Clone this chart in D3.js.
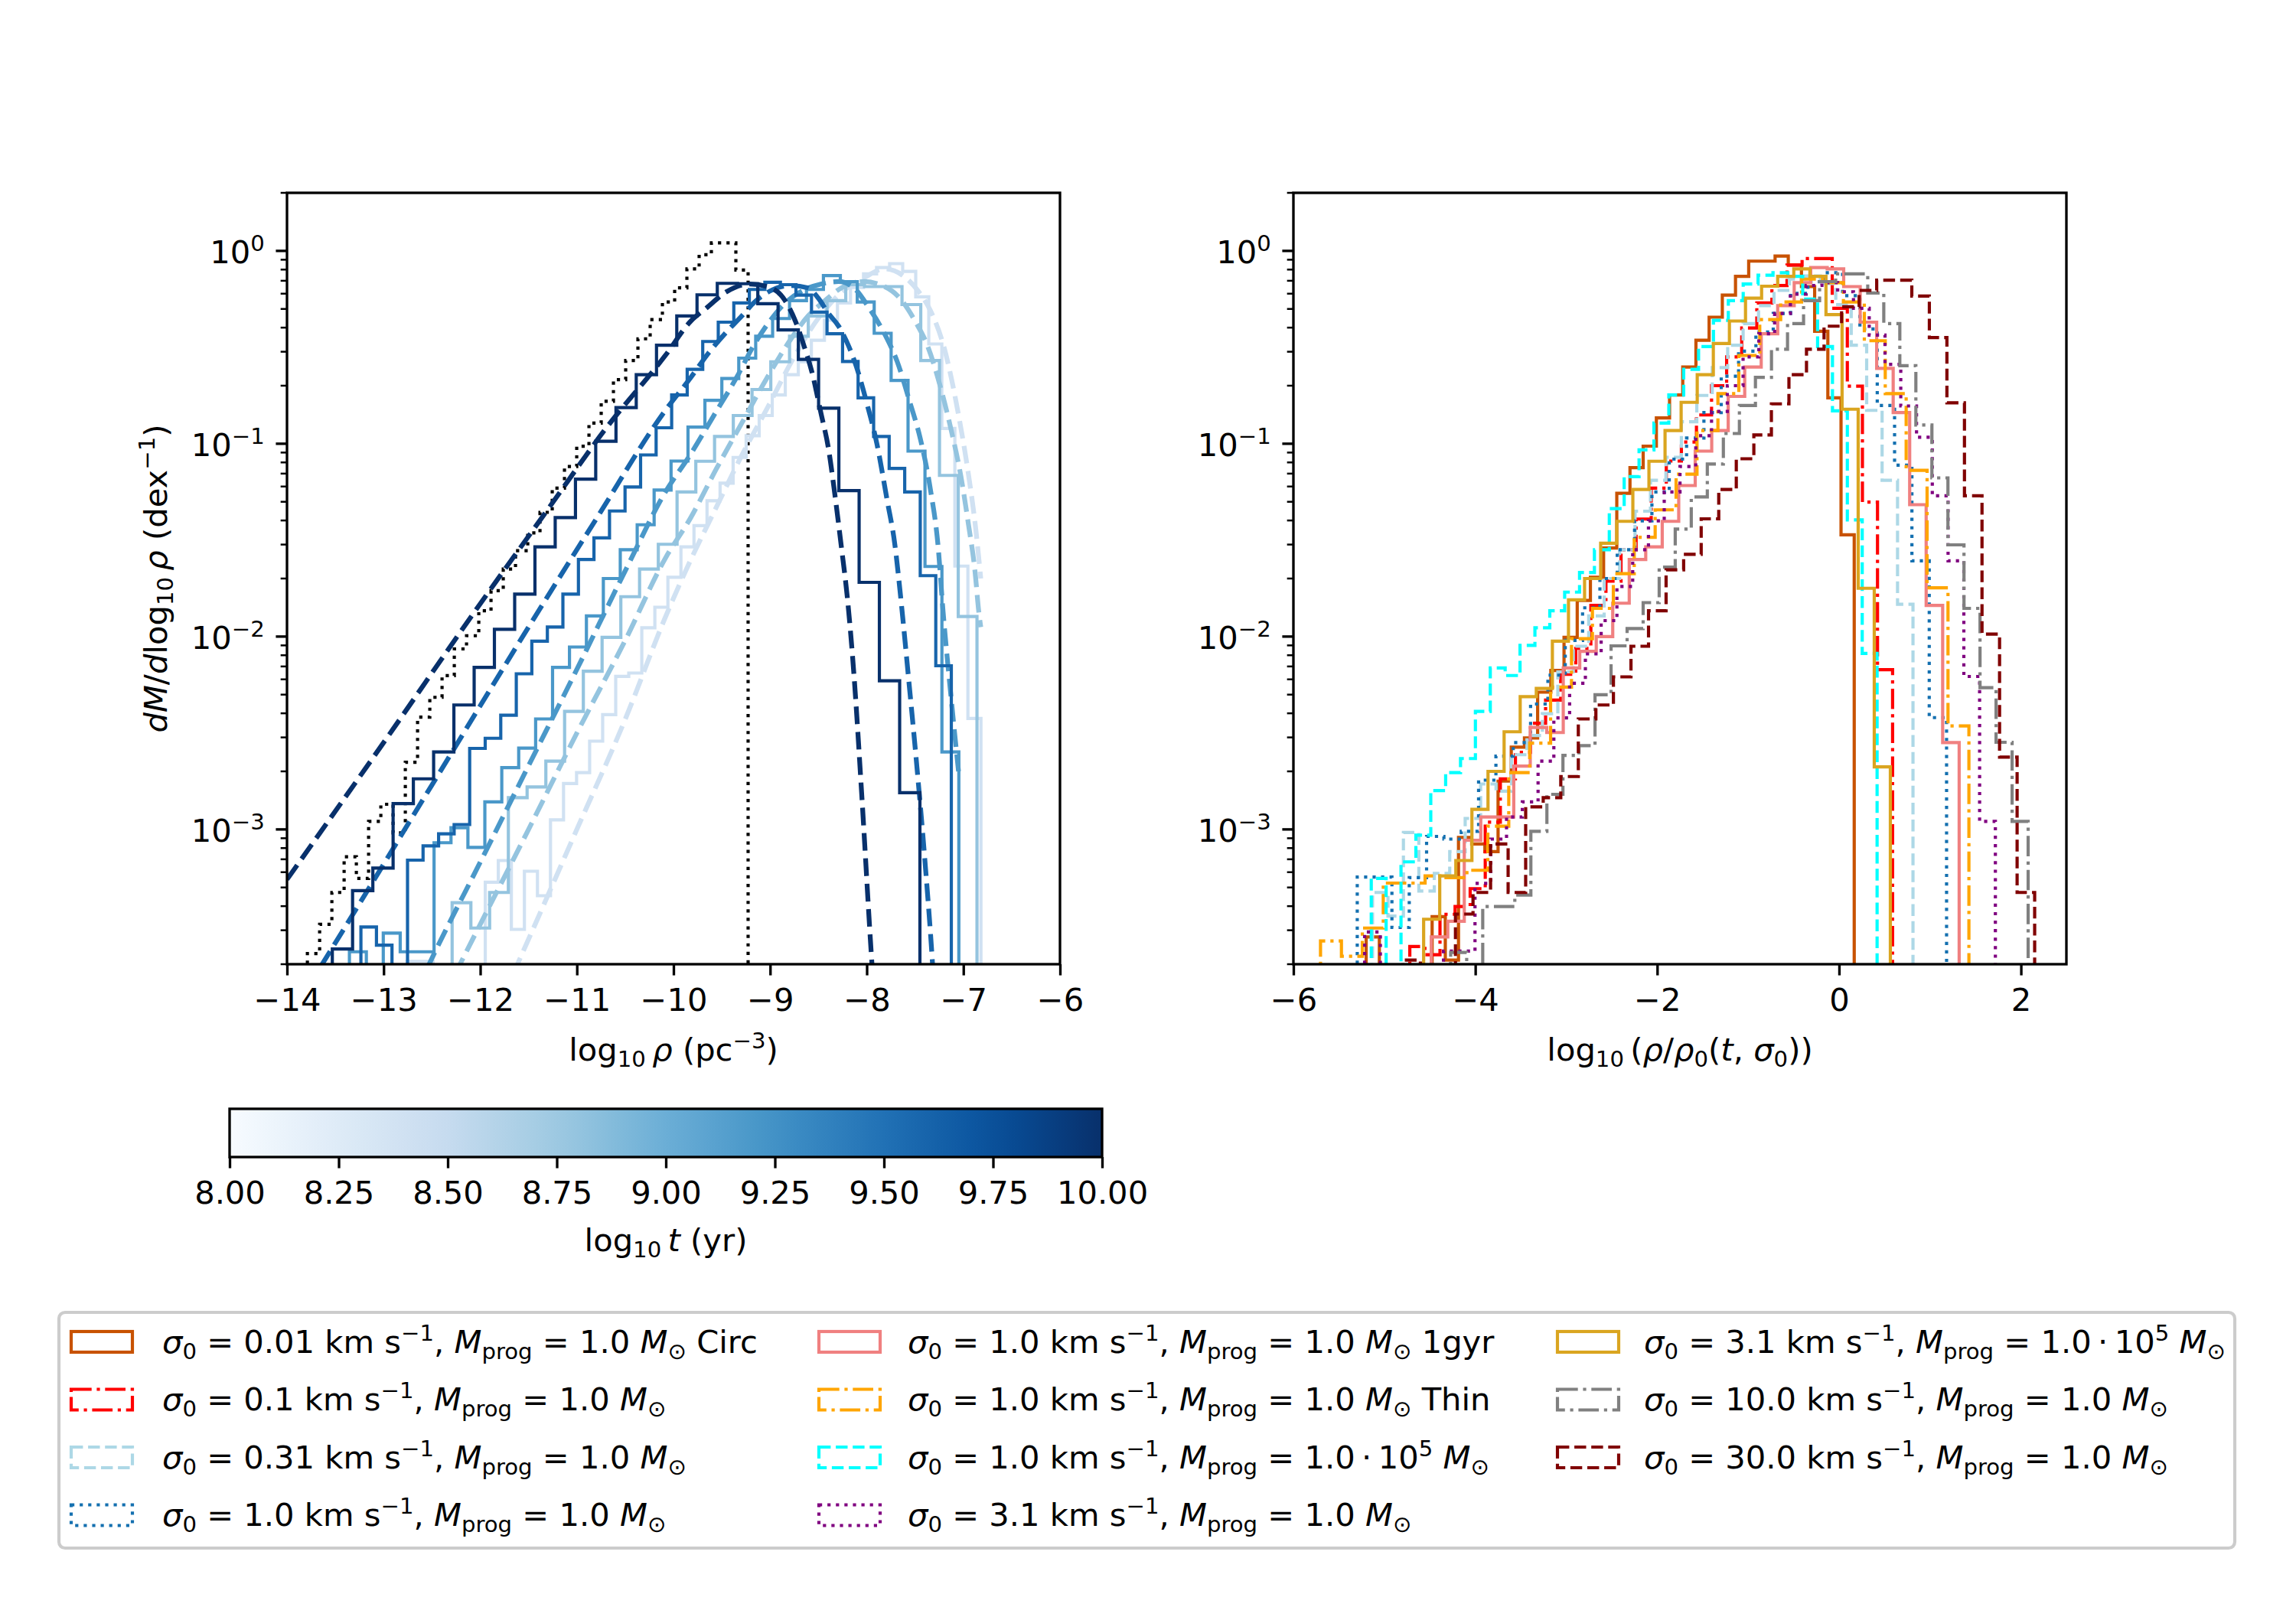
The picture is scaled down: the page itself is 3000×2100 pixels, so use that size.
<!DOCTYPE html>
<html lang="en">
<head>
<meta charset="UTF-8" />
<title>Density distributions</title>
<script src="https://d3js.org/d3.v7.min.js"></script>
<style>
  body { margin: 0; background: #fff; }
  svg text { font-family: "DejaVu Sans", sans-serif; white-space: pre; }
</style>
</head>
<body>
<div id="chart"></div>
<script>
// ------------------------------------------------------------------
// Data (dM/dlog10 rho, per histogram bin)
// ------------------------------------------------------------------

// left panel: reference (black dotted) histogram
const initStart = -13.789, initWidth = 0.1267;
const initHist = [2.27e-4, 3.22e-4, 4.71e-4, 7.21e-4, 5.57e-4, 1.10e-3, 1.35e-3, 9.6e-4, 2.23e-3, 3.82e-3,
  4.84e-3, 6.27e-3, 8.63e-3, 1.01e-2, 1.36e-2, 1.73e-2, 2.24e-2, 2.79e-2, 3.45e-2, 4.41e-2,
  5.89e-2, 7.62e-2, 9.7e-2, 0.128, 0.166, 0.215, 0.27, 0.35, 0.44, 0.543,
  0.643, 0.807, 0.955, 1.10, 1.10, 0.796];

// left panel: one histogram + one model curve per age
const ageLogT = [8.4, 8.8, 9.2, 9.6, 10.0];
const ageBinStart = [-12.758, -12.291, -13.354, -13.235, -13.531];
const ageBinWidth = [0.135, 0.194, 0.1752, 0.1608, 0.2097];

const ageHist84 = [2.07e-4, 2.07e-4, 0, 0, 0, 0, 5.32e-4, 6.9e-4, 3.03e-4, 6.07e-4,
  4.53e-4, 1.12e-3, 1.73e-3, 1.97e-3, 2.87e-3, 3.94e-3, 6.22e-3, 6.47e-3, 1.11e-2, 1.42e-2,
  2.03e-2, 2.92e-2, 3.76e-2, 5.06e-2, 6.25e-2, 8.49e-2, 0.11, 0.14, 0.179, 0.228,
  0.266, 0.344, 0.437, 0.537, 0.646, 0.76, 0.82, 0.859, 0.783, 0.578,
  0.329, 0.12, 2.32e-2, 3.76e-3];
const ageHist88 = [4.17e-4, 3.08e-4, 4.71e-4, 1.46e-3, 1.66e-3, 2.26e-3, 4.09e-3, 6.61e-3, 9.91e-3, 1.61e-2,
  2.24e-2, 3.01e-2, 5.62e-2, 8.11e-2, 0.109, 0.14, 0.191, 0.266, 0.361, 0.46,
  0.552, 0.668, 0.653, 0.653, 0.527, 0.27, 6.85e-2, 1.27e-2];
const ageHist92 = [2.32e-4, 0, 2.9e-4, 2.32e-4, 2.32e-4, 8.53e-4, 1.02e-3, 8.07e-4, 1.39e-3, 2.09e-3,
  2.64e-3, 3.74e-3, 6.92e-3, 8.83e-3, 1.28e-2, 2.0e-2, 2.82e-2, 3.8e-2, 5.75e-2, 8.13e-2,
  0.122, 0.168, 0.218, 0.278, 0.361, 0.446, 0.552, 0.631, 0.745, 0.693,
  0.543, 0.374, 0.213, 9.16e-2, 2.31e-2, 2.52e-3];
const ageHist96 = [3.12e-4, 2.51e-4, 0, 6.93e-4, 8.22e-4, 9.48e-4, 1.06e-3, 2.63e-3, 2.97e-3, 3.91e-3,
  6.41e-3, 9.46e-3, 1.12e-2, 1.66e-2, 2.51e-2, 3.25e-2, 4.48e-2, 5.97e-2, 8.75e-2, 0.121,
  0.179, 0.243, 0.339, 0.427, 0.537, 0.631, 0.687, 0.668, 0.59, 0.481,
  0.372, 0.267, 0.173, 0.109, 7.45e-2, 5.62e-2, 2.07e-2, 7.06e-3];
const ageHist100 = [2.4e-4, 4.81e-4, 6.3e-4, 1.36e-3, 1.83e-3, 2.52e-3, 4.42e-3, 6.92e-3, 1.09e-2, 1.66e-2,
  2.92e-2, 4.14e-2, 6.55e-2, 0.103, 0.154, 0.228, 0.324, 0.46, 0.592, 0.679,
  0.676, 0.532, 0.389, 0.274, 0.153, 5.71e-2, 1.91e-2, 5.9e-3, 1.55e-3];

// model curves [log10 rho, dM/dlog10 rho]
const ageCurve84 = [[-11.66, 1.78e-4], [-11.613, 2.01e-4], [-11.0, 1e-3], [-10.5, 3.72e-3], [-10.084, 1.26e-2],
  [-9.82, 2.51e-2], [-9.557, 4.68e-2], [-9.293, 8.71e-2], [-9.029, 0.153], [-8.765, 0.274], [-8.502, 0.447],
  [-8.238, 0.624], [-8.027, 0.726], [-7.816, 0.807], [-7.631, 0.748], [-7.473, 0.624], [-7.341, 0.49],
  [-7.2, 0.316], [-7.05, 0.141], [-6.95, 7.08e-2], [-6.87, 3.55e-2], [-6.82, 2.0e-2]];
const ageCurve88 = [[-12.26, 1.78e-4], [-12.207, 2.01e-4], [-11.5, 1e-3], [-11.0, 3.16e-3], [-10.5, 9.55e-3],
  [-10.084, 2.55e-2], [-9.82, 4.15e-2], [-9.557, 7.4e-2], [-9.293, 0.128], [-9.029, 0.221], [-8.765, 0.361],
  [-8.607, 0.46], [-8.449, 0.543], [-8.238, 0.653], [-8.027, 0.693], [-7.842, 0.662], [-7.658, 0.569],
  [-7.5, 0.433], [-7.368, 0.319], [-7.236, 0.196], [-7.13, 0.12], [-7.025, 6.75e-2], [-6.946, 3.78e-2],
  [-6.88, 2.19e-2], [-6.84, 1.34e-2], [-6.82, 1.12e-2]];
const ageCurve92 = [[-12.55, 1.9e-4], [-12.484, 2.23e-4], [-12.0, 6.76e-4], [-11.5, 2.14e-3], [-11.0, 6.76e-3],
  [-10.5, 2.19e-2], [-10.084, 5.62e-2], [-9.82, 8.87e-2], [-9.583, 0.14], [-9.346, 0.221], [-9.161, 0.329],
  [-9.003, 0.433], [-8.845, 0.536], [-8.66, 0.624], [-8.475, 0.673], [-8.291, 0.693], [-8.133, 0.643],
  [-7.974, 0.504], [-7.816, 0.372], [-7.684, 0.266], [-7.552, 0.163], [-7.447, 0.107], [-7.341, 5.79e-2],
  [-7.262, 2.96e-2], [-7.21, 1.35e-2], [-7.13, 5.0e-3], [-7.05, 2.0e-3]];
const ageCurve96 = [[-13.65, 1.95e-4], [-13.552, 2.34e-4], [-12.5, 1.7e-3], [-11.5, 1.12e-2], [-10.8, 4.07e-2],
  [-10.084, 0.149], [-9.82, 0.221], [-9.636, 0.296], [-9.451, 0.38], [-9.293, 0.46], [-9.161, 0.543],
  [-8.976, 0.628], [-8.792, 0.662], [-8.607, 0.643], [-8.502, 0.569], [-8.396, 0.474], [-8.291, 0.407],
  [-8.185, 0.319], [-8.106, 0.25], [-8.0, 0.163], [-7.895, 0.1], [-7.79, 5.13e-2], [-7.711, 3.05e-2],
  [-7.64, 1.45e-2], [-7.57, 6.3e-3], [-7.48, 2.09e-3], [-7.40, 7.1e-4], [-7.32, 2.04e-4], [-7.30, 1.4e-4]];
const ageCurve100 = [[-14, 5.5e-4], [-13, 2.82e-3], [-12, 1.48e-2], [-11.3, 4.57e-2], [-10.7, 0.12],
  [-10.084, 0.287], [-9.82, 0.433], [-9.662, 0.504], [-9.451, 0.614], [-9.214, 0.673], [-9.0, 0.646],
  [-8.845, 0.552], [-8.739, 0.433], [-8.647, 0.319], [-8.568, 0.236], [-8.475, 0.145], [-8.396, 9.44e-2],
  [-8.33, 5.46e-2], [-8.264, 2.96e-2], [-8.2, 1.58e-2], [-8.132, 6.31e-3], [-8.053, 1.55e-3],
  [-7.947, 2.04e-4], [-7.92, 1.3e-4]];

// right panel: normalised density histograms, one per run
const runSigma = ["0.01", "0.1", "0.31", "1.0", "1.0", "1.0", "1.0", "3.1", "3.1", "10.0", "30.0"];
const runMassExp = [0, 0, 0, 0, 0, 0, 5, 0, 5, 0, 0];
const runNote = ["Circ", "", "", "", "1gyr", "Thin", "", "", "", "", ""];
const runBinStart = [-5.2, -4.72, -5.13, -5.298, -4.484, -5.702, -5.144, -5.217, -4.568, -4.271, -4.797];
const runBinWidth = [0.14505, 0.1659, 0.1698, 0.1906, 0.1814, 0.23, 0.1636, 0.1734, 0.17697, 0.1764, 0.193];

const runCirc = [2.77e-4, 0, 0, 0, 0, 3.53e-4, 2.1e-4, 9.08e-4, 8.41e-4, 7.67e-4,
  1.78e-3, 2.67e-3, 2.98e-3, 5.15e-3, 6.67e-3, 9.91e-3, 1.54e-2, 2.03e-2, 2.88e-2, 5.53e-2,
  7.52e-2, 9.72e-2, 0.136, 0.179, 0.25, 0.344, 0.453, 0.59, 0.738, 0.885,
  0.885, 0.94, 0.845, 0.653, 0.383, 0.173, 3.37e-2];
const runS01 = [2.47e-4, 2.24e-4, 3.63e-4, 3.98e-4, 4.93e-4, 1.09e-3, 1.83e-3, 2.51e-3, 3.55e-3, 4.68e-3,
  6.37e-3, 8.69e-3, 1.45e-2, 1.94e-2, 2.82e-2, 4.07e-2, 5.89e-2, 8.13e-2, 0.102, 0.141,
  0.2, 0.282, 0.398, 0.537, 0.661, 0.845, 0.912, 0.912, 0.504, 0.199,
  4.98e-2, 6.73e-3];
const runS031 = [4.71e-4, 3.55e-4, 9.64e-4, 4.79e-4, 5.92e-4, 7.67e-4, 1.14e-3, 1.72e-3, 1.58e-3, 2.44e-3,
  3.07e-3, 3.98e-3, 6.56e-3, 8.91e-3, 1.28e-2, 2.0e-2, 2.82e-2, 4.47e-2, 6.46e-2, 8.51e-2,
  0.13, 0.178, 0.248, 0.324, 0.42, 0.52, 0.624, 0.714, 0.741, 0.676,
  0.527, 0.324, 0.149, 6.46e-2, 1.47e-2];
const runS1 = [5.66e-4, 5.66e-4, 3.1e-4, 5.62e-4, 9.2e-4, 8.91e-4, 9.77e-4, 1.8e-3, 2.4e-3, 2.82e-3,
  4.47e-3, 6.31e-3, 9.55e-3, 1.41e-2, 2.0e-2, 2.82e-2, 3.98e-2, 5.62e-2, 8.32e-2, 0.107,
  0.145, 0.224, 0.302, 0.38, 0.474, 0.603, 0.692, 0.771, 0.586, 0.394,
  0.158, 7.74e-2, 2.47e-2, 3.8e-3];
const runS1gyr = [2.77e-4, 3.34e-4, 8.79e-4, 1.16e-3, 1.16e-3, 2.13e-3, 3.38e-3, 3.18e-3, 6.87e-3, 8.38e-3,
  1.0e-2, 1.49e-2, 2.51e-2, 2.92e-2, 3.96e-2, 6.07e-2, 9.16e-2, 0.117, 0.176, 0.25,
  0.372, 0.52, 0.684, 0.82, 0.807, 0.653, 0.427, 0.246, 0.145, 4.83e-2,
  1.45e-2, 2.82e-3];
const runS1thin = [2.64e-4, 2.2e-4, 3.08e-4, 5.27e-4, 5.27e-4, 5.74e-4, 5.62e-4, 6.14e-4, 1.04e-3, 1.97e-3,
  2.8e-3, 5.47e-3, 9.75e-3, 1.4e-2, 2.12e-2, 3.27e-2, 4.54e-2, 6.95e-2, 0.117, 0.182,
  0.287, 0.44, 0.543, 0.714, 0.684, 0.543, 0.342, 0.182, 7.28e-2, 1.79e-2,
  3.44e-3];
const runS1big = [5.57e-4, 0, 6.79e-4, 9.33e-4, 1.59e-3, 1.97e-3, 2.33e-3, 4.09e-3, 6.87e-3, 6.28e-3,
  9.0e-3, 1.11e-2, 1.36e-2, 1.7e-2, 2.15e-2, 2.82e-2, 4.61e-2, 6.75e-2, 9.29e-2, 0.128,
  0.179, 0.243, 0.319, 0.436, 0.552, 0.673, 0.748, 0.771, 0.738, 0.562,
  0.319, 0.148, 4.03e-2, 8.18e-3];
const runS31 = [2.94e-4, 0, 0, 0, 0, 2.34e-4, 2.34e-4, 5.25e-4, 8.91e-4, 1.16e-3,
  1.39e-3, 2.26e-3, 3.79e-3, 5.73e-3, 8.13e-3, 1.21e-2, 1.82e-2, 2.82e-2, 3.98e-2, 5.62e-2,
  7.62e-2, 0.11, 0.147, 0.2, 0.282, 0.372, 0.474, 0.596, 0.662, 0.684,
  0.614, 0.504, 0.366, 0.258, 0.157, 0.108, 5.37e-2, 2.47e-2, 6.21e-3, 1.1e-3];
const runS31big = [3.42e-4, 5.74e-4, 6.9e-4, 1.27e-3, 2.0e-3, 3.21e-3, 4.88e-3, 5.38e-3, 9.46e-3, 1.55e-2,
  2.0e-2, 3.05e-2, 3.96e-2, 5.79e-2, 8.11e-2, 0.117, 0.164, 0.228, 0.331, 0.433,
  0.569, 0.656, 0.738, 0.807, 0.738, 0.467, 0.151, 1.78e-2, 2.11e-3];
const runS10 = [2.3e-4, 0, 3.98e-4, 3.98e-4, 4.57e-4, 9.77e-4, 1.52e-3, 2.42e-3, 2.72e-3, 4.99e-3,
  8.95e-3, 1.1e-2, 1.5e-2, 2.29e-2, 3.61e-2, 5.3e-2, 7.85e-2, 0.113, 0.158, 0.221,
  0.309, 0.42, 0.552, 0.693, 0.76, 0.76, 0.605, 0.42, 0.254, 0.125,
  6.65e-2, 2.99e-2, 1.4e-2, 5.43e-3, 2.83e-3, 1.1e-3];
const runS30 = [2.1e-4, 0, 0, 3.64e-4, 4.71e-4, 8.41e-4, 4.71e-4, 1.31e-3, 1.46e-3, 1.88e-3,
  3.74e-3, 4.42e-3, 6.18e-3, 8.91e-3, 1.36e-2, 2.22e-2, 2.67e-2, 4.08e-2, 5.79e-2, 8.36e-2,
  0.111, 0.161, 0.228, 0.309, 0.407, 0.513, 0.624, 0.705, 0.705, 0.583,
  0.355, 0.163, 5.37e-2, 1.03e-2, 2.37e-3, 4.71e-4];

// tick values
const leftXTicks = [-14, -13, -12, -11, -10, -9, -8, -7, -6];
const rightXTicks = [-6, -4, -2, 0, 2];
const yMajorTicks = [1e-3, 1e-2, 1e-1, 1];
const cbarTicks = [8.0, 8.25, 8.5, 8.75, 9.0, 9.25, 9.5, 9.75, 10.0];

// ------------------------------------------------------------------
// styles
// ------------------------------------------------------------------
const bluesStops = ["#f7fbff", "#deebf7", "#c6dbef", "#9ecae1", "#6baed6", "#4292c6", "#2171b5", "#08519c", "#08306b"];
const runColors = ["#c85200", "red", "lightblue", "#1470b0", "lightcoral", "orange", "cyan", "purple", "goldenrod", "gray", "maroon"];
const DASHED = "15.4,6.7", DASHDOT = "26.7,6.7,4.2,6.7", DOTTED = "4.2,6.9";
const runDash = [null, DASHDOT, DASHED, DOTTED, null, DASHDOT, DASHED, DOTTED, null, DASHDOT, DASHED];

const fs = 41.67;            // 10 pt at 300 dpi
const W = 3000, H = 2100;
const axTop = 252, axBottom = 1260;
const FLOOR = 1e-7;

const svg = d3.select("#chart").append("svg")
  .attr("width", W).attr("height", H)
  .attr("viewBox", `0 0 ${W} ${H}`);
svg.append("rect").attr("width", W).attr("height", H).attr("fill", "white");
const defs = svg.append("defs");

// matplotlib-like Blues colormap
const cmap = d3.scaleLinear()
  .domain(d3.range(9).map(i => 8 + i * 0.25))
  .range(bluesStops)
  .interpolate(d3.interpolateRgb)
  .clamp(true);

// scales
const yScale = d3.scaleLog().domain([2e-4, 2]).range([axBottom, axTop]);
const xLeft = d3.scaleLinear().domain([-14, -6]).range([375, 1385]);
const xRight = d3.scaleLinear().domain([-6, 2.5]).range([1690, 2700]);

// text with sub/superscripts (mathtext look-alike)
function richText(parent, segs, attrs) {
  const t = parent.append("text").attr("font-size", fs).attr("fill", "black");
  Object.entries(attrs).forEach(([k, v]) => t.attr(k, v));
  let cur = 0;
  segs.forEach(s => {
    const target = s.sub ? 8 : s.sup ? -16 : 0;
    const ts = t.append("tspan").text(s.t).attr("dy", target - cur);
    cur = target;
    if (s.sub || s.sup) ts.attr("font-size", fs * 0.7);
    if (s.it) ts.attr("font-style", "italic");
  });
  return t;
}

// step-histogram outline (matplotlib histtype="step")
function stepPoints(x0, w, vals) {
  const pts = [[x0, FLOOR]];
  vals.forEach((v, i) => {
    const y = v > 0 ? v : FLOOR;
    pts.push([x0 + i * w, y], [x0 + (i + 1) * w, y]);
  });
  pts.push([x0 + vals.length * w, FLOOR]);
  return pts;
}

function addClip(id, x) {
  defs.append("clipPath").attr("id", id).append("rect")
    .attr("x", x.range()[0]).attr("y", axTop)
    .attr("width", x.range()[1] - x.range()[0]).attr("height", axBottom - axTop);
}
addClip("clipL", xLeft);
addClip("clipR", xRight);

// ------------------------------------------------------------------
// left panel
// ------------------------------------------------------------------
const gL = svg.append("g").attr("clip-path", "url(#clipL)");
const stepL = d3.line().x(d => xLeft(d[0])).y(d => yScale(Math.max(d[1], FLOOR)));
const curveL = d3.line().curve(d3.curveMonotoneX).x(d => xLeft(d[0])).y(d => yScale(d[1]));

gL.append("path")
  .attr("d", stepL(stepPoints(initStart, initWidth, initHist)))
  .attr("fill", "none").attr("stroke", "black")
  .attr("stroke-width", 4.17).attr("stroke-dasharray", DOTTED)
  .attr("stroke-linejoin", "miter");

const ageHists = [ageHist84, ageHist88, ageHist92, ageHist96, ageHist100];
const ageCurves = [ageCurve84, ageCurve88, ageCurve92, ageCurve96, ageCurve100];
ageLogT.forEach((t, i) => {
  const col = cmap(t);
  gL.append("path")
    .attr("d", stepL(stepPoints(ageBinStart[i], ageBinWidth[i], ageHists[i])))
    .attr("fill", "none").attr("stroke", col).attr("stroke-width", 4.17)
    .attr("stroke-linejoin", "miter");
  gL.append("path")
    .attr("d", curveL(ageCurves[i]))
    .attr("fill", "none").attr("stroke", col).attr("stroke-width", 6.25)
    .attr("stroke-dasharray", "23.1,10");
});

// ------------------------------------------------------------------
// right panel
// ------------------------------------------------------------------
const gR = svg.append("g").attr("clip-path", "url(#clipR)");
const stepR = d3.line().x(d => xRight(d[0])).y(d => yScale(Math.max(d[1], FLOOR)));
const runHists = [runCirc, runS01, runS031, runS1, runS1gyr, runS1thin, runS1big, runS31, runS31big, runS10, runS30];
runHists.forEach((vals, i) => {
  gR.append("path")
    .attr("d", stepR(stepPoints(runBinStart[i], runBinWidth[i], vals)))
    .attr("fill", "none").attr("stroke", runColors[i]).attr("stroke-width", 4.17)
    .attr("stroke-dasharray", runDash[i])
    .attr("stroke-linejoin", "miter");
});

// ------------------------------------------------------------------
// axes
// ------------------------------------------------------------------
function styleAxis(g) {
  g.attr("font-size", fs).attr("font-family", '"DejaVu Sans", sans-serif');
  g.select(".domain").remove();
  g.selectAll(".tick line").attr("stroke", "black").attr("stroke-width", 3.33);
  g.selectAll(".tick text").attr("fill", "black");
}

const minorVals = [];
for (let e = -4; e <= 0; e++) {
  for (let m = 2; m <= 9; m++) {
    const v = m * Math.pow(10, e);
    if (v >= 2e-4 * 0.999 && v <= 2 * 1.001) minorVals.push(v);
  }
}

function drawAxes(x, ticks) {
  const [x0, x1] = x.range();
  const gx = svg.append("g").attr("transform", `translate(0,${axBottom})`)
    .call(d3.axisBottom(x).tickValues(ticks).tickFormat(d3.format("d"))
      .tickSize(14.58).tickPadding(16.8));
  styleAxis(gx);

  const gy = svg.append("g");
  gy.selectAll("line.minor").data(minorVals).join("line")
    .attr("x1", x0).attr("x2", x0 - 8.33)
    .attr("y1", d => yScale(d)).attr("y2", d => yScale(d))
    .attr("stroke", "black").attr("stroke-width", 2.5);
  gy.selectAll("line.major").data(yMajorTicks).join("line")
    .attr("x1", x0).attr("x2", x0 - 14.58)
    .attr("y1", d => yScale(d)).attr("y2", d => yScale(d))
    .attr("stroke", "black").attr("stroke-width", 3.33);
  yMajorTicks.forEach(v => {
    const e = Math.round(Math.log10(v));
    richText(gy, [{ t: "10" }, { t: e === 0 ? "0" : "\u2212" + Math.abs(e), sup: true }],
      { x: x0 - 29.2, y: yScale(v) + 16, "text-anchor": "end" });
  });

  svg.append("rect")
    .attr("x", x0).attr("y", axTop)
    .attr("width", x1 - x0).attr("height", axBottom - axTop)
    .attr("fill", "none").attr("stroke", "black").attr("stroke-width", 3.33);
}
drawAxes(xLeft, leftXTicks);
drawAxes(xRight, rightXTicks);

// axis labels
richText(svg, [{ t: "dM", it: true }, { t: "/" }, { t: "d", it: true }, { t: "log" }, { t: "10", sub: true },
  { t: "\u2009" }, { t: "ρ", it: true }, { t: " (dex" }, { t: "\u22121", sup: true }, { t: ")" }],
  { transform: "translate(218,756) rotate(-90)", "text-anchor": "middle" });

richText(svg, [{ t: "log" }, { t: "10", sub: true }, { t: "\u2009" }, { t: "ρ", it: true },
  { t: " (pc" }, { t: "\u22123", sup: true }, { t: ")" }],
  { x: (375 + 1385) / 2, y: 1386, "text-anchor": "middle" });

richText(svg, [{ t: "log" }, { t: "10", sub: true }, { t: "\u2009(" }, { t: "ρ", it: true }, { t: "/" },
  { t: "ρ", it: true }, { t: "0", sub: true }, { t: "(" }, { t: "t", it: true }, { t: ", " },
  { t: "σ", it: true }, { t: "0", sub: true }, { t: "))" }],
  { x: (1690 + 2700) / 2, y: 1386, "text-anchor": "middle" });

// ------------------------------------------------------------------
// colorbar
// ------------------------------------------------------------------
const cbX = d3.scaleLinear().domain([8, 10]).range([300, 1440]);
const grad = defs.append("linearGradient").attr("id", "bluesGrad")
  .attr("x1", "0%").attr("x2", "100%").attr("y1", "0%").attr("y2", "0%");
d3.range(0, 1.0001, 0.05).forEach(o => {
  grad.append("stop").attr("offset", `${o * 100}%`).attr("stop-color", cmap(8 + 2 * o));
});
svg.append("rect")
  .attr("x", 300).attr("y", 1449).attr("width", 1140).attr("height", 63)
  .attr("fill", "url(#bluesGrad)").attr("stroke", "black").attr("stroke-width", 3.33);
const gcb = svg.append("g").attr("transform", "translate(0,1512)")
  .call(d3.axisBottom(cbX).tickValues(cbarTicks).tickFormat(d3.format(".2f"))
    .tickSize(14.58).tickPadding(16.8));
styleAxis(gcb);
richText(svg, [{ t: "log" }, { t: "10", sub: true }, { t: "\u2009" }, { t: "t", it: true }, { t: " (yr)" }],
  { x: 870, y: 1635, "text-anchor": "middle" });

// ------------------------------------------------------------------
// legend
// ------------------------------------------------------------------
svg.append("rect")
  .attr("x", 77).attr("y", 1715).attr("width", 2843).attr("height", 308)
  .attr("rx", 8).attr("ry", 8)
  .attr("fill", "white").attr("fill-opacity", 0.8)
  .attr("stroke", "#cccccc").attr("stroke-width", 4.17);

const legHandleX = [93, 1070, 2035];
const legTextX = [212, 1186, 2148];
const legRowY = [1753.5, 1829, 1904.5, 1980];

function legendSegs(i) {
  const segs = [{ t: "σ", it: true }, { t: "0", sub: true }, { t: ` = ${runSigma[i]} km s` },
    { t: "\u22121", sup: true }, { t: ", " }, { t: "M", it: true }, { t: "prog", sub: true }, { t: " = 1.0" }];
  if (runMassExp[i]) segs.push({ t: "\u2009·\u200910" }, { t: String(runMassExp[i]), sup: true });
  segs.push({ t: " " }, { t: "M", it: true }, { t: "⊙", sub: true });
  if (runNote[i]) segs.push({ t: " " + runNote[i] });
  return segs;
}

runSigma.forEach((s, i) => {
  const col = Math.floor(i / 4), row = i % 4;
  const cy = legRowY[row];
  svg.append("rect")
    .attr("x", legHandleX[col]).attr("y", cy - 13.5).attr("width", 80).attr("height", 27)
    .attr("fill", "none").attr("stroke", runColors[i]).attr("stroke-width", 4.17)
    .attr("stroke-dasharray", runDash[i]);
  richText(svg, legendSegs(i), { x: legTextX[col], y: cy + 14 });
});
</script>
</body>
</html>
